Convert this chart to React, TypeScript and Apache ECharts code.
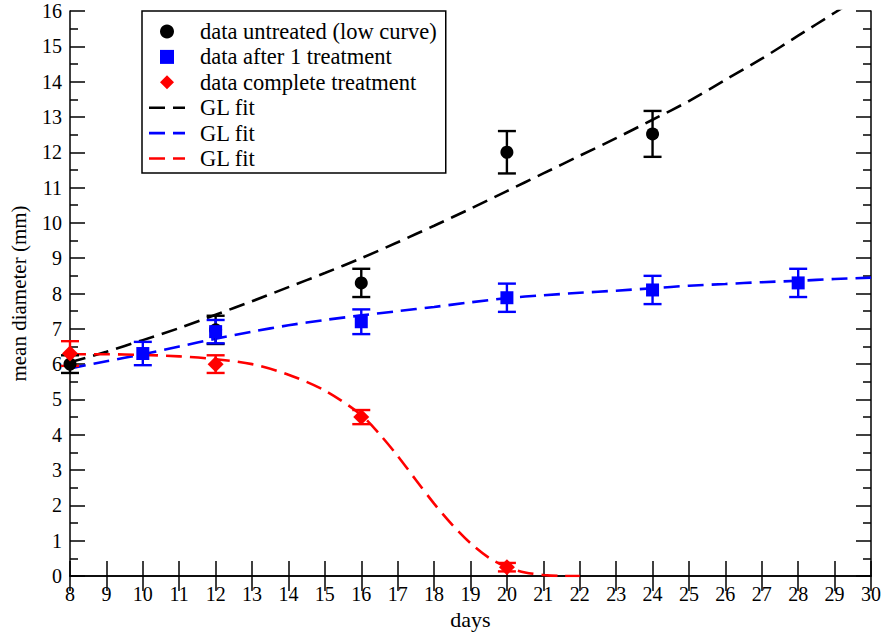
import React, { useEffect, useRef } from "react";
import * as echarts from "echarts";

// Measured data points (day, mean diameter, error half-width)
const untreatedDays = [8, 12, 16, 20, 24];
const untreatedMean = [6.0, 6.97, 8.3, 12.0, 12.52];
const untreatedErr = [0.25, 0.4, 0.4, 0.6, 0.65];

const oneTreatDays = [10, 12, 16, 20, 24, 28];
const oneTreatMean = [6.3, 6.92, 7.2, 7.88, 8.1, 8.3];
const oneTreatErr = [0.33, 0.33, 0.35, 0.4, 0.4, 0.4];

const completeDays = [8, 12, 16, 20];
const completeMean = [6.3, 6.0, 4.5, 0.25];
const completeErr = [0.35, 0.25, 0.2, 0.12];

// GL fit curves
const fitBlackDays = [8, 9, 10, 11, 12, 13, 14, 15, 16, 17, 18, 19, 20, 21, 22, 23, 24, 25, 26, 27, 28, 29, 30];
const fitBlackVals = [6.05, 6.35, 6.68, 7.02, 7.4, 7.78, 8.18, 8.58, 9.0, 9.45, 9.92, 10.4, 10.9, 11.4, 11.9, 12.4, 12.92, 13.45, 14.05, 14.65, 15.3, 15.95, 16.6];

const fitBlueDays = [8, 9, 10, 11, 12, 13, 14, 15, 16, 17, 18, 19, 20, 21, 22, 23, 24, 25, 26, 27, 28, 29, 30];
const fitBlueVals = [5.88, 6.08, 6.28, 6.5, 6.72, 6.92, 7.1, 7.25, 7.38, 7.5, 7.62, 7.75, 7.87, 7.95, 8.02, 8.08, 8.15, 8.22, 8.27, 8.32, 8.36, 8.41, 8.45];

const fitRedDays = [8, 9, 10, 11, 12, 13, 14, 15, 16, 16.5, 17, 17.5, 18, 18.5, 19, 19.5, 20, 20.5, 21, 21.5, 22];
const fitRedVals = [6.28, 6.28, 6.26, 6.22, 6.14, 6.0, 5.7, 5.25, 4.56, 4.02, 3.4, 2.72, 2.05, 1.45, 0.93, 0.52, 0.25, 0.1, 0.03, 0.0, 0.0];

const legendNames = [
  "data untreated (low curve)",
  "data after 1 treatment",
  "data complete treatment",
  "GL fit#black",
  "GL fit#blue",
  "GL fit#red",
];

const FONT = "Liberation Serif";
const BLACK = "#000000";
const BLUE = "#0000ff";
const RED = "#ff0000";

const ICON_SQUARE = "path://M0,0h10v10h-10Z";
const ICON_DIAMOND = "path://M5,0L10,5L5,10L0,5Z";
const ICON_DASH = "path://M0,0h16v2.6h-16Z M24,0h12v2.6h-12Z";
const legendIcons = ["circle", ICON_SQUARE, ICON_DIAMOND, ICON_DASH, ICON_DASH, ICON_DASH];

const zip2 = (xs: number[], ys: number[]) => xs.map((x, i) => [x, ys[i]]);
const errData = (xs: number[], ys: number[], es: number[]) =>
  xs.map((x, i) => [x, ys[i] - es[i], ys[i] + es[i]]);

const errorBarSeries = (name: string, data: number[][], color: string) => ({
  type: "custom",
  name,
  data,
  encode: { x: 0, y: [1, 2] },
  z: 3,
  renderItem: (_params: any, api: any) => {
    const x = api.value(0);
    const lo = api.coord([x, api.value(1)]);
    const hi = api.coord([x, api.value(2)]);
    const hw = 9;
    const style = { stroke: color, lineWidth: 2.4 };
    return {
      type: "group",
      children: [
        { type: "line", shape: { x1: lo[0], y1: lo[1], x2: hi[0], y2: hi[1] }, style },
        { type: "line", shape: { x1: lo[0] - hw, y1: lo[1], x2: lo[0] + hw, y2: lo[1] }, style },
        { type: "line", shape: { x1: hi[0] - hw, y1: hi[1], x2: hi[0] + hw, y2: hi[1] }, style },
      ],
    };
  },
});

const fitSeries = (name: string, data: number[][], color: string) => ({
  type: "line",
  name,
  data,
  smooth: 0.3,
  symbol: "none",
  z: 2,
  lineStyle: { color, width: 2.6, type: [16, 8] },
  itemStyle: { color },
});

const baseAxisLine = { show: true, lineStyle: { color: BLACK, width: 1.5 } };
const tickStyle = { color: BLACK, width: 1.5 };

export default function App() {
  const ref = useRef<HTMLDivElement>(null);
  useEffect(() => {
    const chart = echarts.init(ref.current!, null, { renderer: "svg" });
    const option: any = {
      animation: false,
      backgroundColor: "#ffffff",
      textStyle: { fontFamily: FONT, color: BLACK },
      grid: { left: 62, right: 15, top: 11, bottom: 60, containLabel: false },
      legend: {
        data: legendNames.map((name, i) => ({ name, icon: legendIcons[i] })),
        orient: "vertical",
        left: 142,
        top: 11,
        padding: [9, 9, 3, 7],
        itemWidth: 36,
        itemHeight: 14,
        itemGap: 2.4,
        backgroundColor: "#ffffff",
        borderColor: BLACK,
        borderWidth: 1.5,
        selectedMode: false,
        formatter: (n: string) => n.split("#")[0],
        textStyle: { fontFamily: FONT, fontSize: 22.5, color: BLACK, padding: [0, 0, 0, 10] },
      },
      xAxis: [
        {
          type: "value",
          min: 8,
          max: 30,
          interval: 1,
          position: "bottom",
          name: "days",
          nameLocation: "middle",
          nameGap: 30,
          nameTextStyle: { fontFamily: FONT, fontSize: 22, color: BLACK },
          axisLine: baseAxisLine,
          axisTick: { show: true, inside: true, length: 15, lineStyle: tickStyle },
          axisLabel: { fontFamily: FONT, fontSize: 20, color: BLACK, margin: 8 },
          splitLine: { show: false },
        },
        {
          type: "value",
          min: 8,
          max: 30,
          interval: 1,
          position: "top",
          axisLine: baseAxisLine,
          axisTick: { show: true, inside: true, length: 15, lineStyle: tickStyle },
          axisLabel: { show: false },
          splitLine: { show: false },
        },
      ],
      yAxis: [
        {
          type: "value",
          min: 0,
          max: 16,
          interval: 1,
          position: "left",
          name: "mean diameter (mm)",
          nameLocation: "middle",
          nameGap: 41,
          nameRotate: 90,
          nameTextStyle: { fontFamily: FONT, fontSize: 21, color: BLACK },
          axisLine: baseAxisLine,
          axisTick: { show: true, inside: true, length: 15, lineStyle: tickStyle },
          minorTick: { show: true, splitNumber: 2, length: 8, lineStyle: tickStyle },
          axisLabel: { fontFamily: FONT, fontSize: 20, color: BLACK, margin: 8 },
          splitLine: { show: false },
          minorSplitLine: { show: false },
        },
        {
          type: "value",
          min: 0,
          max: 16,
          interval: 1,
          position: "right",
          axisLine: baseAxisLine,
          axisTick: { show: true, inside: true, length: 15, lineStyle: tickStyle },
          minorTick: { show: true, splitNumber: 2, length: 8, lineStyle: tickStyle },
          axisLabel: { show: false },
          splitLine: { show: false },
          minorSplitLine: { show: false },
        },
      ],
      series: [
        fitSeries("GL fit#black", zip2(fitBlackDays, fitBlackVals), BLACK),
        fitSeries("GL fit#blue", zip2(fitBlueDays, fitBlueVals), BLUE),
        fitSeries("GL fit#red", zip2(fitRedDays, fitRedVals), RED),
        errorBarSeries("err untreated", errData(untreatedDays, untreatedMean, untreatedErr), BLACK),
        errorBarSeries("err one", errData(oneTreatDays, oneTreatMean, oneTreatErr), BLUE),
        errorBarSeries("err complete", errData(completeDays, completeMean, completeErr), RED),
        {
          type: "scatter",
          name: "data untreated (low curve)",
          data: zip2(untreatedDays, untreatedMean),
          symbol: "circle",
          symbolSize: 13,
          z: 4,
          itemStyle: { color: BLACK, opacity: 1 },
        },
        {
          type: "scatter",
          name: "data after 1 treatment",
          data: zip2(oneTreatDays, oneTreatMean),
          symbol: "rect",
          symbolSize: 13,
          z: 4,
          itemStyle: { color: BLUE, opacity: 1 },
        },
        {
          type: "scatter",
          name: "data complete treatment",
          data: zip2(completeDays, completeMean),
          symbol: "diamond",
          symbolSize: 16,
          z: 4,
          itemStyle: { color: RED, opacity: 1 },
        },
      ],
    };
    chart.setOption(option);
    return () => chart.dispose();
  }, []);
  return (
    <div
      ref={ref}
      style={{ position: "fixed", left: 0, top: 0, width: 886, height: 636, background: "#fff" }}
    />
  );
}
